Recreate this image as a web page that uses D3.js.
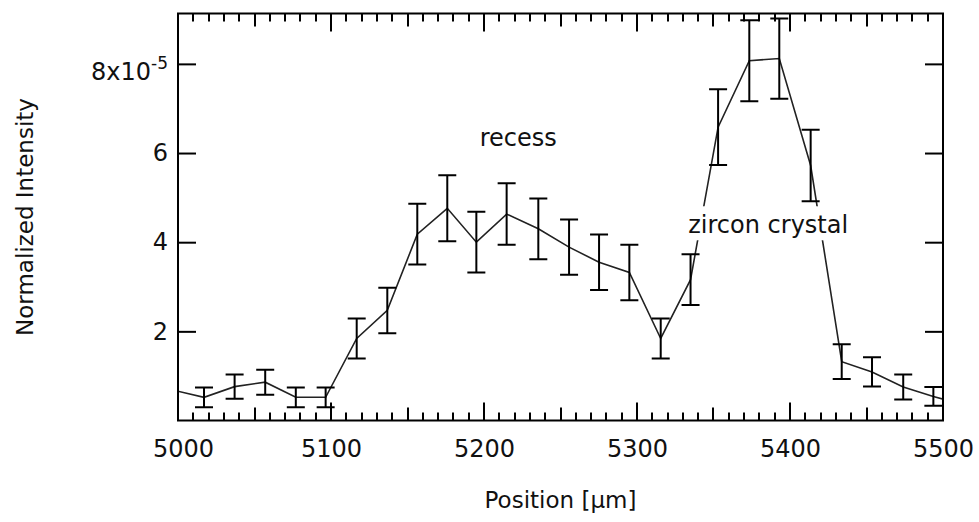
<!DOCTYPE html>
<html><head><meta charset="utf-8">
<script src="https://cdn.jsdelivr.net/npm/d3@7"></script>
<style>
body{margin:0;background:#fff}
text{font-family:"DejaVu Sans",sans-serif;fill:#111}
</style>
</head><body>
<svg id="chart" width="979" height="522"></svg>
<script>
// Data. Intensity and errors in units of 1e-5.
const positions = [4997,5017,5037,5057,5077,5096.5,5116.8,5136.8,5156.4,5176,5195,5214.8,5235.5,5255.6,5275.2,5295,5315.5,5335,5353,5373.4,5393,5413.5,5433.8,5453.6,5474,5493.7,5513.5];
const intensity = [0.68,0.52,0.76,0.86,0.52,0.52,1.84,2.47,4.18,4.76,4.0,4.63,4.30,3.89,3.55,3.32,1.84,3.16,6.58,8.07,8.12,5.72,1.32,1.09,0.75,0.54,0.35];
const errors = [0.22,0.22,0.27,0.28,0.22,0.22,0.45,0.51,0.68,0.74,0.68,0.69,0.68,0.62,0.62,0.62,0.45,0.57,0.85,0.91,0.90,0.80,0.39,0.33,0.28,0.21,0.2];
const xMajorTicks = [5000,5100,5200,5300,5400,5500];
const xMediumTicks = [5050,5150,5250,5350,5450];
const xMinorTicks = [5010,5020,5030,5040,5060,5070,5080,5090,5110,5120,5130,5140,5160,5170,5180,5190,5210,5220,5230,5240,5260,5270,5280,5290,5310,5320,5330,5340,5360,5370,5380,5390,5410,5420,5430,5440,5460,5470,5480,5490];
const yTicks = [2,4,6,8];
const yTickLabels = ["2","4","6","8x10"];
const yExponent = "-5";
const xLabel = "Position [\u03bcm]";
const yLabel = "Normalized Intensity";
const annotations = [
  {text:"recess", x:5222.4, y:6.16, anchor:"middle", box:false},
  {text:"zircon crystal", x:5333.5, y:4.2, anchor:"start", box:true}
];

const L=178, R=943, T=13.5, B=420.5;
const x = d3.scaleLinear().domain([5000,5500]).range([L,R]);
const y = d3.scaleLinear().domain([0,9.13]).range([B,T]);
const svg = d3.select("#chart");

const data = positions.map((p,i)=>({p, v:intensity[i], e:errors[i]}));

svg.append("defs").append("clipPath").attr("id","clip")
  .append("rect").attr("x",L).attr("y",T).attr("width",R-L).attr("height",B-T);

const plot = svg.append("g").attr("clip-path","url(#clip)");

// line
plot.append("path").datum(data)
  .attr("fill","none").attr("stroke","#222").attr("stroke-width",1.6)
  .attr("d", d3.line().x(d=>x(d.p)).y(d=>y(d.v)));

// error bars (only for points inside the x range)
const eb = plot.append("g").attr("stroke","#000").attr("stroke-width",2);
data.filter(d=>d.p>=5000 && d.p<=5500).forEach(d=>{
  const cx=x(d.p), y1=y(d.v+d.e), y0=y(d.v-d.e);
  eb.append("line").attr("x1",cx).attr("x2",cx).attr("y1",y1).attr("y2",y0);
  eb.append("line").attr("x1",cx-9).attr("x2",cx+9).attr("y1",y1).attr("y2",y1);
  eb.append("line").attr("x1",cx-9).attr("x2",cx+9).attr("y1",y0).attr("y2",y0);
});

// annotations
annotations.forEach(a=>{
  const g = svg.append("g");
  const t = g.append("text").attr("x",x(a.x)).attr("y",y(a.y))
    .attr("text-anchor",a.anchor).attr("font-size",24).text(a.text);
  if(a.box){
    const bb = t.node().getBBox();
    g.insert("rect","text").attr("x",bb.x-4).attr("y",bb.y-5)
      .attr("width",bb.width+8).attr("height",bb.height+6).attr("fill","#fff");
  }
});

const noLabel = () => "";
function styleAxis(g){
  g.select(".domain").remove();
  g.selectAll(".tick line").attr("stroke","#000").attr("stroke-width",2);
  g.selectAll("text").attr("font-size",24).attr("fill","#111").attr("font-family","DejaVu Sans, sans-serif");
}

// x tick marks (inward, top and bottom) drawn from the x scale as one path
let tickPath = "";
[[xMinorTicks,8],[xMediumTicks,13],[xMajorTicks,18]].forEach(([vals,len])=>{
  vals.forEach(v=>{
    const px = Math.round(x(v));
    tickPath += `M${px},${B}V${B-len}M${px},${T}V${T+len}`;
  });
});
svg.append("path").attr("d",tickPath).attr("fill","none")
  .attr("stroke","#000").attr("stroke-width",2);

// bottom axis labels
const bx = svg.append("g").attr("transform",`translate(0,${B})`)
  .call(d3.axisBottom(x).tickValues(xMajorTicks).tickSize(0).tickPadding(19.5).tickFormat(d3.format("d"))).call(styleAxis);
bx.selectAll(".tick line").remove();
bx.selectAll(".tick text").filter(d=>d===5000).attr("dx",5);

// left axis
const ly = svg.append("g").attr("transform",`translate(${L},0)`)
  .call(d3.axisLeft(y).tickValues(yTicks).tickSize(-18).tickPadding(10)
    .tickFormat((d,i)=>yTickLabels[i])).call(styleAxis);
ly.selectAll(".tick text").filter(d=>d===8).each(function(){
  const t=d3.select(this);
  t.attr("dy","0.64em");
  t.append("tspan").attr("dy",-11).attr("font-size",17).text(yExponent);
});
// right axis
svg.append("g").attr("transform",`translate(${R},0)`)
  .call(d3.axisRight(y).tickValues(yTicks).tickSize(-18).tickFormat(noLabel)).call(styleAxis);

// frame
svg.append("rect").attr("x",L).attr("y",T).attr("width",R-L).attr("height",B-T)
  .attr("fill","none").attr("stroke","#000").attr("stroke-width",2);

// axis titles
svg.append("text").attr("x",(L+R)/2).attr("y",508).attr("text-anchor","middle")
  .attr("font-size",23).text(xLabel);
svg.append("text").attr("transform",`translate(33,${(T+B)/2}) rotate(-90)`)
  .attr("text-anchor","middle").attr("font-size",23).text(yLabel);
</script>
</body></html>
